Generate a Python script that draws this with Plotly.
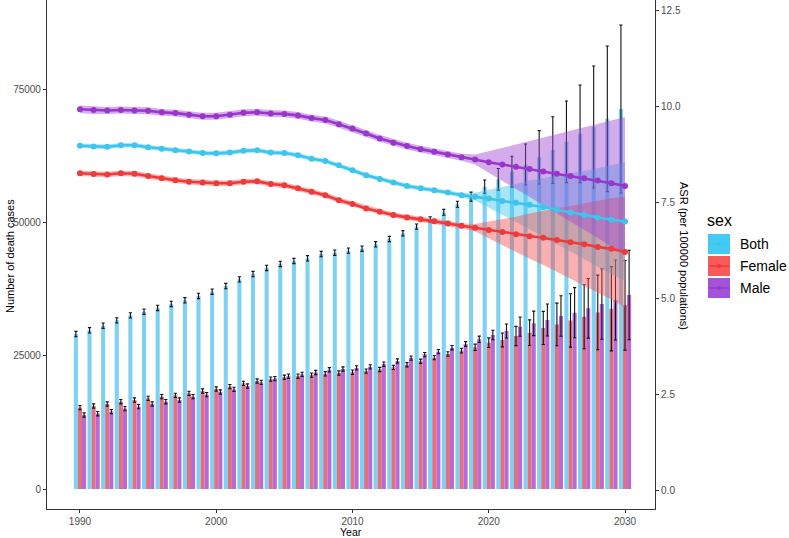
import plotly.graph_objects as go

years = list(range(1990, 2031))

# number of death cases (bars, left axis)
deaths_both = [29060, 29750, 30620, 31620, 32560, 33250, 33940, 34690, 35380, 36190,
               37000, 38060, 39310, 40310, 41440, 42190, 42750, 43260, 44060, 44310,
               44690, 45060, 45880, 46875, 47940, 49190, 50560, 51880, 53380, 54810,
               56690, 58070, 59500, 60840, 62190, 63560, 65100, 66600, 67875, 69400,
               71250]
deaths_female = [15250, 15560, 15940, 16370, 16690, 17000, 17310, 17560, 17940, 18375,
                 18750, 19190, 19810, 20250, 20600, 20950, 21150, 21350, 21600, 21750,
                 21900, 22100, 22400, 22800, 23300, 23950, 24625, 25310, 25940, 26560,
                 27440, 27940, 28690, 29310, 30200, 30850, 31600, 32300, 33100, 33800,
                 34440]
deaths_male = [13875, 14120, 14500, 15060, 15440, 15940, 16370, 16690, 17310, 17690,
               18190, 18690, 19310, 20000, 20700, 21150, 21500, 21850, 22350, 22500,
               22700, 22900, 23400, 24000, 24550, 25200, 25750, 26500, 27190, 28060,
               28875, 29625, 30440, 31060, 31690, 32440, 33060, 33880, 34690, 35440,
               36375]

# error bar half widths (deaths)
err_both = [500, 500, 500, 500, 500, 500, 500, 500, 500, 500,
            500, 500, 500, 500, 500, 500, 500, 500, 500, 500,
            500, 500, 500, 500, 500, 500, 500, 550, 560, 850,
            1250, 2030, 2900, 3850, 5000, 6250, 7650, 9150, 11440, 13650,
            15750]
err_female = [400, 400, 400, 400, 400, 400, 400, 400, 400, 400,
              400, 400, 400, 400, 400, 400, 400, 400, 400, 400,
              400, 400, 400, 400, 400, 400, 400, 420, 450, 600,
              900, 1300, 1800, 2400, 3100, 4000, 5000, 6000, 7000, 7900,
              8400]
err_male = [400, 400, 400, 400, 400, 400, 400, 400, 400, 400,
            400, 400, 400, 400, 400, 400, 400, 400, 400, 400,
            400, 400, 400, 400, 400, 400, 400, 420, 450, 600,
            900, 1300, 1800, 2300, 3000, 3800, 4700, 5600, 6600, 7500,
            8400]

# age standardised rate (lines, right axis)
asr_both = [8.98, 8.96, 8.95, 8.99, 8.99, 8.94, 8.90, 8.86, 8.83, 8.79,
            8.78, 8.80, 8.85, 8.86, 8.80, 8.79, 8.73, 8.64, 8.58, 8.47,
            8.34, 8.21, 8.11, 8.02, 7.93, 7.87, 7.82, 7.76, 7.69, 7.65,
            7.60, 7.54, 7.49, 7.44, 7.38, 7.31, 7.24, 7.17, 7.11, 7.05,
            7.00]
asr_female = [8.26, 8.24, 8.23, 8.26, 8.25, 8.19, 8.13, 8.08, 8.04, 8.02,
              8.00, 8.00, 8.04, 8.05, 7.98, 7.95, 7.87, 7.78, 7.69, 7.56,
              7.46, 7.34, 7.26, 7.17, 7.11, 7.06, 7.01, 6.95, 6.89, 6.84,
              6.78, 6.73, 6.67, 6.62, 6.58, 6.52, 6.46, 6.41, 6.34, 6.29,
              6.21]
asr_male = [9.93, 9.91, 9.90, 9.91, 9.90, 9.89, 9.85, 9.83, 9.79, 9.75,
            9.75, 9.79, 9.84, 9.85, 9.82, 9.81, 9.77, 9.70, 9.65, 9.54,
            9.43, 9.30, 9.17, 9.06, 8.97, 8.89, 8.82, 8.75, 8.68, 8.62,
            8.55, 8.49, 8.43, 8.37, 8.31, 8.25, 8.19, 8.13, 8.07, 8.00,
            7.93]

# half width of the ASR interval band
ci_both = [0.06, 0.06, 0.06, 0.06, 0.06, 0.06, 0.06, 0.06, 0.06, 0.06,
           0.06, 0.06, 0.06, 0.06, 0.06, 0.06, 0.06, 0.06, 0.06, 0.06,
           0.06, 0.06, 0.06, 0.06, 0.06, 0.06, 0.06, 0.06, 0.06, 0.10,
           0.23, 0.36, 0.49, 0.63, 0.76, 0.89, 1.02, 1.15, 1.29, 1.42,
           1.55]
ci_female = [0.07, 0.07, 0.07, 0.07, 0.07, 0.07, 0.07, 0.07, 0.07, 0.07,
             0.07, 0.07, 0.07, 0.07, 0.07, 0.07, 0.07, 0.07, 0.07, 0.07,
             0.07, 0.07, 0.07, 0.07, 0.07, 0.07, 0.07, 0.07, 0.07, 0.10,
             0.22, 0.34, 0.46, 0.59, 0.71, 0.83, 0.95, 1.07, 1.20, 1.32,
             1.44]
ci_male = [0.10, 0.10, 0.09, 0.09, 0.09, 0.09, 0.09, 0.09, 0.09, 0.09,
           0.09, 0.09, 0.09, 0.09, 0.09, 0.09, 0.09, 0.09, 0.09, 0.09,
           0.09, 0.09, 0.09, 0.09, 0.09, 0.09, 0.09, 0.09, 0.09, 0.13,
           0.28, 0.43, 0.58, 0.73, 0.88, 1.04, 1.19, 1.34, 1.49, 1.64,
           1.80]

left_ticks = [0, 25000, 50000, 75000]
right_ticks = [0, 2.5, 5.0, 7.5, 10.0, 12.5]
x_ticks = [1990, 2000, 2010, 2020, 2030]

sexes = ["Both", "Female", "Male"]
bar_col = {"Both": "#7dd1f2", "Female": "#e2717f", "Male": "#b86bd5"}
line_col = {"Both": "#3ec5ee", "Female": "#ee3a3a", "Male": "#9a35cc"}
band_col = {"Both": "rgba(62,197,238,0.45)", "Female": "rgba(245,80,80,0.45)",
            "Male": "rgba(160,70,210,0.45)"}
key_col = {"Both": "#45cbf3", "Female": "#f65a5b", "Male": "#a253d8"}

deaths = {"Both": deaths_both, "Female": deaths_female, "Male": deaths_male}
errs = {"Both": err_both, "Female": err_female, "Male": err_male}
asr = {"Both": asr_both, "Female": asr_female, "Male": asr_male}
ci = {"Both": ci_both, "Female": ci_female, "Male": ci_male}

W, H = 789, 538
L, R, T, B = 47, 655, 0, 509


def px(x):
    return (x - L) / (R - L)


def py(y):
    return (B - y) / (B - T)


fig = go.Figure()

for s in sexes:
    fig.add_trace(go.Bar(
        x=years, y=deaths[s], name=s, showlegend=False,
        marker=dict(color=bar_col[s], line=dict(width=0)),
        error_y=dict(type="data", array=errs[s], color="#111111", thickness=1.1, width=1.6),
    ))

for s in sexes:
    lo = [a - c for a, c in zip(asr[s], ci[s])]
    hi = [a + c for a, c in zip(asr[s], ci[s])]
    fig.add_trace(go.Scatter(x=years, y=lo, yaxis="y2", mode="lines",
                             line=dict(width=0, color=band_col[s]),
                             showlegend=False, hoverinfo="skip"))
    fig.add_trace(go.Scatter(x=years, y=hi, yaxis="y2", mode="lines",
                             line=dict(width=0, color=band_col[s]), fill="tonexty",
                             fillcolor=band_col[s], showlegend=False, hoverinfo="skip"))

for s in sexes:
    fig.add_trace(go.Scatter(x=years, y=asr[s], yaxis="y2", mode="lines+markers",
                             line=dict(color=line_col[s], width=2.6),
                             marker=dict(color=line_col[s], size=6),
                             showlegend=False, name=s))

tick_font = dict(family="Liberation Sans, Arial, sans-serif", size=10, color="#4d4d4d")
axis_common = dict(showgrid=False, zeroline=False, showline=True, linecolor="#333333",
                   linewidth=1.1, ticks="outside", ticklen=3, tickcolor="#333333",
                   tickfont=tick_font)

fig.update_layout(
    width=W, height=H,
    margin=dict(l=L, r=W - R, t=T, b=H - B),
    paper_bgcolor="white", plot_bgcolor="white",
    barmode="group", bargap=0.1, bargroupgap=0,
    font=dict(family="Liberation Sans, Arial, sans-serif", color="black"),
    xaxis=dict(range=[1987.58, 2032.2], tickvals=x_ticks,
               ticktext=[str(v) for v in x_ticks], **axis_common),
    yaxis=dict(range=[-3750, 91688], tickvals=left_ticks,
               ticktext=[str(v) for v in left_ticks], **axis_common),
    yaxis2=dict(range=[-0.495, 12.78], overlaying="y", side="right",
                tickvals=right_ticks, ticktext=["%.1f" % v for v in right_ticks],
                **axis_common),
    showlegend=False,
)

ann = [
    dict(text="Year", x=px(351), y=py(532), font=dict(size=10.5), borderpad=0),
    dict(text="Number of death cases", x=px(10), y=py(256), textangle=-90,
         font=dict(size=11)),
    dict(text="ASR (per 100000 populations)", x=px(684), y=py(256), textangle=90,
         font=dict(size=11)),
    dict(text="sex", x=px(705), y=py(220), xanchor="left", font=dict(size=16)),
]

shapes = []
key_top = 234
for i, s in enumerate(sexes):
    y0 = key_top + i * 22
    y1 = y0 + 20
    yc = (y0 + y1) / 2
    shapes.append(dict(type="rect", xref="paper", yref="paper",
                       x0=px(708), x1=px(730), y0=py(y1), y1=py(y0),
                       fillcolor=key_col[s], line=dict(width=0)))
    shapes.append(dict(type="line", xref="paper", yref="paper",
                       x0=px(709), x1=px(729), y0=py(yc), y1=py(yc),
                       line=dict(color=line_col[s], width=1.5)))
    shapes.append(dict(type="circle", xref="paper", yref="paper",
                       x0=px(717), x1=px(721), y0=py(yc + 2), y1=py(yc - 2),
                       fillcolor=line_col[s], line=dict(width=0)))
    ann.append(dict(text=s, x=px(738), y=py(yc), xanchor="left", font=dict(size=14)))

for a in ann:
    a.setdefault("xanchor", "center")
    a.update(xref="paper", yref="paper", yanchor="middle", showarrow=False)

fig.update_layout(annotations=ann, shapes=shapes)

# page has a default body margin; drop it so the figure sits at the window corner
fig.write_html("out.html", config={"displayModeBar": False},
               post_script="document.body.style.margin='0';")
